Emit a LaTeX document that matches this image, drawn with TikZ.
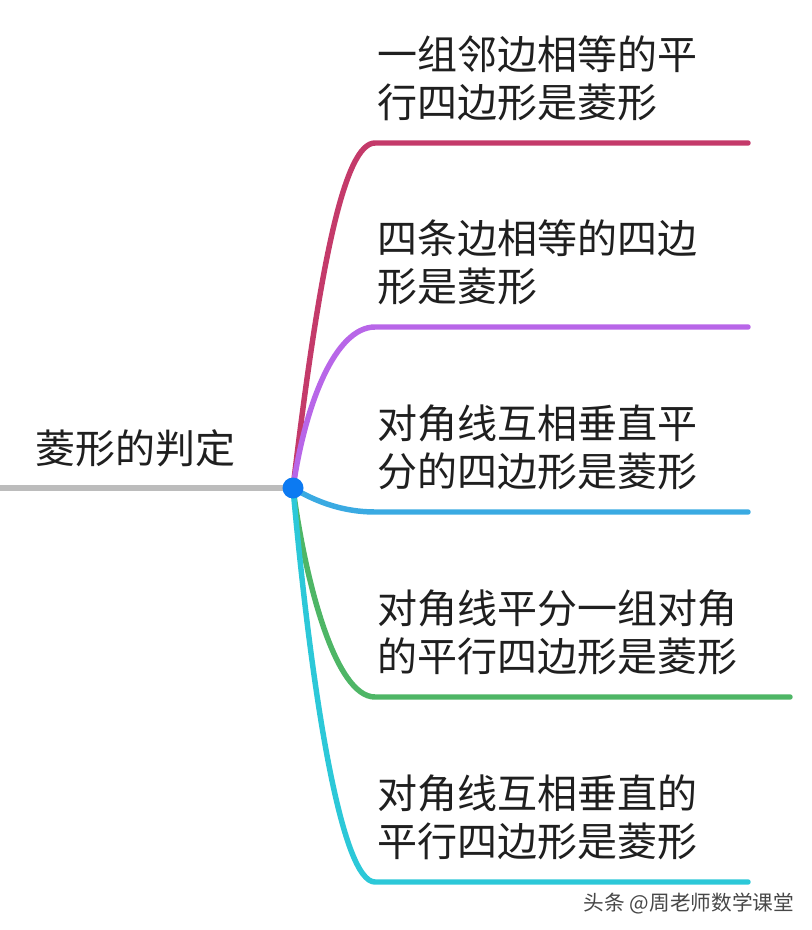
\documentclass[tikz,border=0pt]{standalone}
\usepackage{fontspec}
\setmainfont{Noto Sans CJK SC}
\usepackage{tikz}
\usetikzlibrary{positioning, calc}
\definecolor{brcrimson}{RGB}{196,58,106}
\definecolor{brpurple}{RGB}{184,102,232}
\definecolor{brblue}{RGB}{58,170,226}
\definecolor{brgreen}{RGB}{78,182,102}
\definecolor{brcyan}{RGB}{44,200,216}
\definecolor{rootgray}{RGB}{188,188,188}
\definecolor{dotblue}{RGB}{12,122,242}

\begin{document}
\begin{tikzpicture}[
    x=0.75pt, y=-0.75pt,
    % ── Styles ──
    branch/.style={line width=4.1pt, line cap=round},
    leaf/.style={anchor=south west, inner sep=0pt, align=left,
                 font=\fontsize{30pt}{36pt}\selectfont, text=black!88},
    title/.style={inner sep=0pt, font=\fontsize{30pt}{36pt}\selectfont, text=black!88},
    wmark/.style={inner sep=0pt, font=\fontsize{15.5pt}{18pt}\selectfont, text=black!72}
]
\useasboundingbox (0,0) rectangle (812,930);

% ═══ Root ═══
\coordinate (rootin) at (0,488);
\coordinate (root) at (293,488);
\node[title] (topic) at (135,448) {菱形的判定};
\draw[line width=3.8pt, rootgray] (rootin) -- (root);

% ═══ Branch end points ═══
\coordinate (b1) at (375,143);  \coordinate (e1) at (748,143);
\coordinate (b2) at (375,327);  \coordinate (e2) at (748,327);
\coordinate (b3) at (375,512);  \coordinate (e3) at (748,512);
\coordinate (b4) at (375,697);  \coordinate (e4) at (790,697);
\coordinate (b5) at (375,882);  \coordinate (e5) at (748,882);

% ═══ Branches ═══
\draw[branch, brcrimson] (root) .. controls (320,260) and (345,143) .. (b1) -- (e1);
\draw[branch, brpurple]  (root) .. controls (305,405) and (335,327) .. (b2) -- (e2);
\draw[branch, brblue]    (root) .. controls (318,503) and (345,512) .. (b3) -- (e3);
\draw[branch, brgreen]   (root) .. controls (305,580) and (335,697) .. (b4) -- (e4);
\draw[branch, brcyan]    (root) .. controls (312,700) and (342,882) .. (b5) -- (e5);

% ═══ Leaf texts ═══
\node[leaf] (t1) at ($(b1)+(2,-22)$) {一组邻边相等的平\\行四边形是菱形};
\node[leaf] (t2) at ($(b2)+(2,-22)$) {四条边相等的四边\\形是菱形};
\node[leaf] (t3) at ($(b3)+(2,-22)$) {对角线互相垂直平\\分的四边形是菱形};
\node[leaf] (t4) at ($(b4)+(2,-22)$) {对角线平分一组对角\\的平行四边形是菱形};
\node[leaf] (t5) at ($(b5)+(2,-22)$) {对角线互相垂直的\\平行四边形是菱形};

% ═══ Centre dot ═══
\fill[dotblue] (root) circle (10.5);

% ═══ Watermark ═══
\node[wmark] (wm) at (689,904) {头条 @周老师数学课堂};

\end{tikzpicture}
\end{document}
